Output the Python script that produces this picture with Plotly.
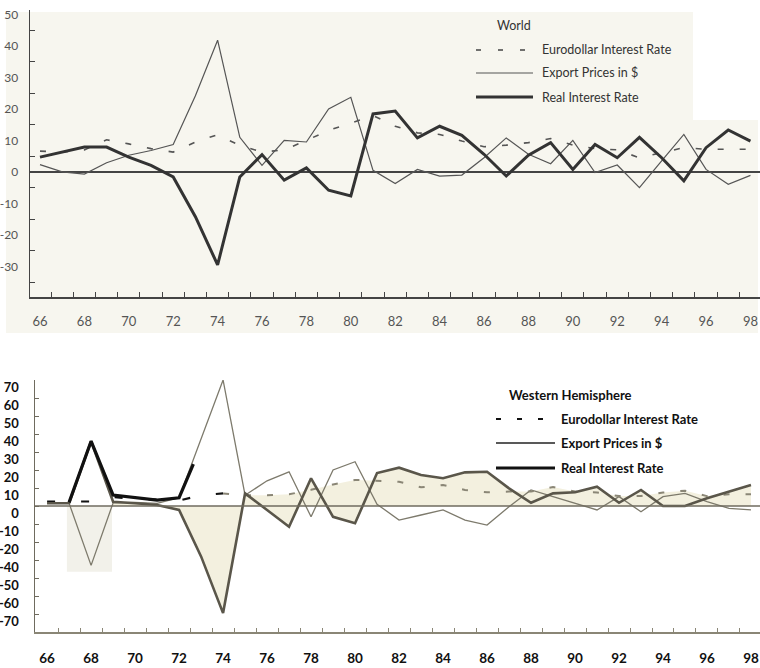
import plotly.graph_objects as go

W, H = 760, 668

# ---------------- data ----------------
years = list(range(66, 99))
year_ticks = list(range(66, 99, 2))
year_labels = [str(y) for y in year_ticks]
half_year_ticks = [y + 0.5 for y in range(66, 98)]

world_y_ticks = [50, 40, 30, 20, 10, 0, -10, -20, -30]
world_y_labels = ["50", "40", "30", "20", "10", "0", "-10", "-20", "-30"]
world_y_minor = [45, 35, 25, 15, 5, -5, -15, -25, -35]

world_euro = [6.6, 6.3, 7.0, 10.2, 8.9, 7.4, 6.3, 9.5, 11.8, 8.4, 6.3, 7.0, 10.0,
              13.2, 15.5, 17.9, 14.5, 12.4, 11.9, 9.8, 8.0, 8.5, 9.3, 10.6, 8.5,
              7.4, 7.0, 4.5, 6.1, 7.7, 7.2, 7.2, 7.2]
world_export = [2.3, 0.0, -0.7, 2.9, 5.3, 6.8, 8.7, 24.2, 41.8, 11.0, 2.1, 10.0, 9.5,
                20.0, 23.7, 0.5, -3.7, 0.8, -1.3, -1.0, 4.5, 10.8, 5.6, 2.6, 10.0,
                -0.2, 2.2, -5.0, 3.5, 11.9, 0.8, -3.9, -1.1]
world_real = [4.7, 6.3, 7.9, 7.9, 4.7, 2.1, -1.6, -14.2, -29.5, -1.6, 5.5, -2.6, 1.3,
              -5.8, -7.6, 18.4, 19.3, 10.8, 14.5, 11.6, 5.6, -1.3, 5.3, 9.3, 0.8,
              8.7, 4.5, 11.0, 4.5, -2.8, 7.7, 13.3, 9.8]

wh_y_ticks = [70, 60, 50, 40, 30, 20, 10, 0, -10, -20, -30, -40, -50, -60]
wh_y_labels = ["70", "60", "50", "40", "30", "20", "10", "0", "-10", "-20",
               "-40", "-50", "-60", "-70"]

wh_euro = [2.5, 2.5, 2.5, 5.0, 4.0, 3.5, 3.0, 6.0, 7.0, 6.0, 6.0, 6.5, 9.0,
           12.0, 14.5, 14.0, 13.5, 10.4, 11.7, 8.9, 7.6, 8.0, 8.0, 10.5, 8.0,
           7.5, 5.5, 5.5, 7.5, 8.5, 5.5, 6.5, 6.5]
wh_export = [1.5, 1.5, -33.0, 1.7, 2.0, 1.5, 4.6, 37.0, 70.0, 6.0, 14.0, 19.0, -6.0,
             20.0, 24.6, 1.0, -7.8, -5.0, -2.2, -7.8, -10.6, -0.4, 8.9, 5.2, 1.5,
             -2.2, 5.2, -3.2, 5.2, 7.0, 2.4, -1.3, -2.2]
wh_real = [1.5, 1.5, 36.0, 2.4, 1.5, 0.6, -2.2, -28.0, -59.5, 7.0, -2.2, -11.5, 15.4,
           -6.0, -9.6, 18.3, 21.3, 17.2, 15.4, 18.7, 19.0, 9.8, 1.8, 7.0, 7.6,
           10.7, 1.8, 8.9, 0.0, 0.0, 4.3, 7.9, 11.7]
# darker retouched stretch of the Western Hemisphere real-rate line (as printed)
wh_overlay_years = [67, 68, 69, 70, 71, 72, 72.65]
wh_overlay_vals = [2.0, 36.0, 6.1, 4.6, 3.3, 4.6, 23.2]

legend_names = ["Eurodollar Interest Rate", "Export Prices in $", "Real Interest Rate"]

# ---------------- styling ----------------
FONT = "Lato"
CREAM = "#f7f6ef"
FILL = "#f3f0df"


def px(x):
    return x / W


def py(y):
    return 1 - y / H


fig = go.Figure()

# ---- World ----
fig.add_trace(go.Scatter(x=years, y=world_euro, mode="lines", xaxis="x", yaxis="y",
                         line=dict(color="#555", width=1.6, dash="6px,16px"),
                         name=legend_names[0]))
fig.add_trace(go.Scatter(x=years, y=world_export, mode="lines", xaxis="x", yaxis="y",
                         line=dict(color="#555", width=1.2), name=legend_names[1]))
fig.add_trace(go.Scatter(x=years, y=world_real, mode="lines", xaxis="x", yaxis="y",
                         line=dict(color="#333", width=3), name=legend_names[2]))

# ---- Western Hemisphere ----
fig.add_trace(go.Scatter(x=years[3:], y=wh_real[3:], mode="lines", xaxis="x2", yaxis="y2",
                         fill="tozeroy", fillcolor=FILL, line=dict(width=0),
                         showlegend=False))
fig.add_trace(go.Scatter(x=years[9:], y=wh_euro[9:], mode="lines", xaxis="x2", yaxis="y2",
                         fill="tozeroy", fillcolor=FILL, line=dict(width=0),
                         showlegend=False))
fig.add_trace(go.Scatter(x=years, y=wh_export, mode="lines", xaxis="x2", yaxis="y2",
                         line=dict(color="#7d7a6c", width=1.3), name=legend_names[1]))
fig.add_trace(go.Scatter(x=years[:9], y=wh_euro[:9], mode="lines", xaxis="x2", yaxis="y2",
                         line=dict(color="#111", width=2.2, dash="8px,26px"),
                         name=legend_names[0]))
fig.add_trace(go.Scatter(x=years[8:], y=wh_euro[8:], mode="lines", xaxis="x2", yaxis="y2",
                         line=dict(color="#8a8676", width=2, dash="6px,16px"),
                         showlegend=False))
fig.add_trace(go.Scatter(x=years, y=wh_real, mode="lines", xaxis="x2", yaxis="y2",
                         line=dict(color="#5a564a", width=2.6), name=legend_names[2]))
fig.add_trace(go.Scatter(x=wh_overlay_years, y=wh_overlay_vals, mode="lines",
                         xaxis="x2", yaxis="y2",
                         line=dict(color="#111", width=3.2), showlegend=False))

axis_common = dict(showgrid=False, zeroline=False, showline=True, mirror=False,
                   automargin=False)

fig.update_layout(
    width=W, height=H,
    autosize=False,
    margin=dict(l=0, r=0, t=0, b=0, pad=0),
    paper_bgcolor="white",
    plot_bgcolor="rgba(0,0,0,0)",
    showlegend=False,
    hovermode=False,
    font=dict(family=FONT, size=13, color="#444"),
    xaxis=dict(**axis_common, domain=[px(30), 1], range=[65.55, 98.43],
               anchor="y", linecolor="#444", linewidth=1.5,
               tickmode="array", tickvals=year_ticks, ticktext=year_labels,
               ticks="", ticklabelstandoff=12,
               tickfont=dict(family=FONT, size=13, color="#555"),
               minor=dict(tickmode="array", tickvals=half_year_ticks, ticks="inside",
                          ticklen=5, tickcolor="#444", tickwidth=1)),
    yaxis=dict(showgrid=False, showline=True, automargin=False,
               domain=[py(297), py(10)],
               range=[-39.7, 51.4], anchor="x", linecolor="#444", linewidth=1.5,
               zeroline=True, zerolinecolor="#444", zerolinewidth=1.3,
               tickmode="array", tickvals=world_y_ticks, ticktext=world_y_labels,
               ticks="", ticklabelstandoff=8,
               tickfont=dict(family=FONT, size=12, color="#555"),
               minor=dict(tickmode="array", tickvals=world_y_minor, ticks="inside",
                          ticklen=5, tickcolor="#444", tickwidth=1)),
    xaxis2=dict(**axis_common, domain=[px(35), 1], range=[65.45, 98.41],
                anchor="y2", linecolor="#8a8676", linewidth=1.5,
                tickmode="array", tickvals=year_ticks, ticktext=year_labels,
                ticks="", ticklabelstandoff=13,
                tickfont=dict(family=FONT, size=13.5, color="#111", weight="bold"),
                minor=dict(tickmode="array", tickvals=half_year_ticks, ticks="inside",
                           ticklen=4, tickcolor="#8a8676", tickwidth=1)),
    yaxis2=dict(**axis_common, domain=[py(632), py(380)], range=[-70, 70],
                anchor="x2", linecolor="#6f6b5f", linewidth=1.5,
                tickmode="array", tickvals=wh_y_ticks, ticktext=wh_y_labels,
                ticks="inside", ticklen=4, tickcolor="#6f6b5f",
                ticklabelstandoff=12, ticklabelshift=7,
                tickfont=dict(family=FONT, size=13, color="#111", weight="bold"),
                minor=dict(tickmode="array", tickvals=[-70], ticks="inside",
                           ticklen=4, tickcolor="#6f6b5f")),
)

shapes = []
# cream paper backing of the World panel
shapes.append(dict(type="rect", xref="paper", yref="paper", layer="below",
                   x0=px(6), x1=px(693), y0=py(333), y1=py(12),
                   fillcolor=CREAM, line=dict(width=0)))
shapes.append(dict(type="rect", xref="paper", yref="paper", layer="below",
                   x0=px(693), x1=px(758), y0=py(333), y1=py(120),
                   fillcolor=CREAM, line=dict(width=0)))
# shaded block under the 1968 dip (as printed)
shapes.append(dict(type="rect", xref="x2", yref="y2", layer="below",
                   x0=66.9, x1=68.95, y0=0, y1=-36.5,
                   fillcolor="#f2f1ea", line=dict(width=0)))
# Western Hemisphere zero line
shapes.append(dict(type="line", xref="x2 domain", yref="y2", layer="above",
                   x0=0, x1=1, y0=0, y1=0, line=dict(color="#6f6b5f", width=1.4)))

annotations = []


def legend_block(title, title_xy, rows_y, x0, x1, tx, styles, tfont, efont):
    annotations.append(dict(text=title, x=px(title_xy[0]), y=py(title_xy[1]),
                            xref="paper", yref="paper", xanchor="left",
                            yanchor="middle", showarrow=False, font=tfont))
    for yy, name, st in zip(rows_y, legend_names, styles):
        shapes.append(dict(type="line", xref="paper", yref="paper",
                           x0=px(x0), x1=px(x1), y0=py(yy), y1=py(yy), line=st))
        annotations.append(dict(text=name, x=px(tx), y=py(yy), xref="paper",
                                yref="paper", xanchor="left", yanchor="middle",
                                showarrow=False, font=efont))


legend_block("World", (495, 25), [50, 73, 97], 476, 533, 540,
             [dict(color="#444", width=1.6, dash="5px,17px"),
              dict(color="#555", width=1.2),
              dict(color="#333", width=3)],
             dict(family=FONT, size=12.5, color="#333"),
             dict(family=FONT, size=12.5, color="#333"))

legend_block("Western Hemisphere", (507, 395), [419, 443, 468], 496, 555, 559,
             [dict(color="#111", width=1.8, dash="5px,16px"),
              dict(color="#222", width=1.4),
              dict(color="#111", width=3)],
             dict(family=FONT, size=13, color="#111", weight="bold"),
             dict(family=FONT, size=13, color="#111", weight="bold"))

fig.update_layout(shapes=shapes, annotations=annotations)

fig.write_html("out.html",
               config={"displayModeBar": False, "staticPlot": True},
               post_script="document.body.style.margin='0';"
                           "document.body.style.overflow='hidden';")
